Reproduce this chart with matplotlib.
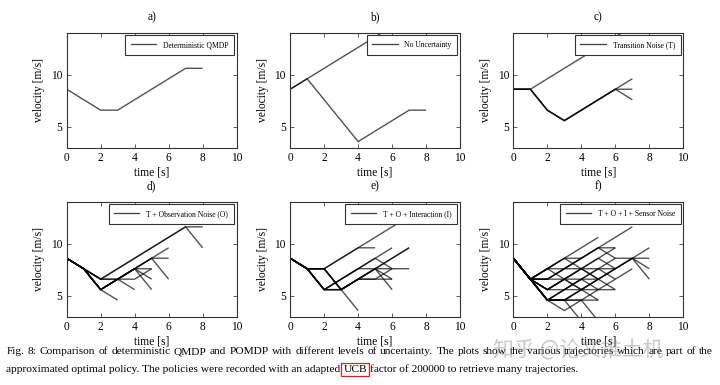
# QMDP vs POMDP trajectory comparison, 6 panels + caption.
import matplotlib.pyplot as plt
from matplotlib.lines import Line2D
from matplotlib.patches import Rectangle

plt.rcParams['font.family'] = ['Liberation Serif', 'DejaVu Serif']

TITLES = ['a)', 'b)', 'c)', 'd)', 'e)', 'f)']
LABELS = ['Deterministic QMDP',
          'No Uncertainty',
          'Transition Noise (T)',
          'T + Observation Noise (O)',
          'T + O + Interaction (I)',
          'T + O + I + Sensor Noise']

# trajectories: time [s] and velocity [m/s] per panel
A_TIMES = [[0, 2, 3, 7, 8]]
A_VELS = [[8.6, 6.6, 6.6, 10.6, 10.6]]

B_TIMES = [[0, 1, 4, 7, 8], [0, 1, 6]]
B_VELS = [[8.6, 9.6, 3.6, 6.6, 6.6], [8.6, 9.6, 14.6]]

C_TIMES = [[0, 1, 7], [0, 1, 2, 3, 7], [0, 1, 2, 3, 6, 7], [0, 1, 2, 3, 6, 7]]
C_VELS = [[8.6, 8.6, 14.6], [8.6, 8.6, 6.6, 5.6, 9.6],
          [8.6, 8.6, 6.6, 5.6, 8.6, 8.6], [8.6, 8.6, 6.6, 5.6, 8.6, 7.6]]

D_TIMES = [[0, 1, 2, 7, 8], [0, 1, 2, 7, 8], [0, 1, 2, 4, 5], [0, 1, 2, 3, 4],
           [0, 1, 2, 5, 6], [0, 1, 2, 5, 6], [0, 1, 2, 6], [0, 1, 2, 4, 5],
           [0, 1, 2, 4, 5], [0, 1, 2, 4, 5], [0, 1, 2, 3]]
D_VELS = [[8.6, 7.6, 6.6, 11.6, 11.6], [8.6, 7.6, 6.6, 11.6, 9.6],
          [8.6, 7.6, 6.6, 6.6, 7.6], [8.6, 7.6, 6.6, 6.6, 5.6],
          [8.6, 7.6, 5.6, 8.6, 8.6], [8.6, 7.6, 5.6, 8.6, 6.6],
          [8.6, 7.6, 5.6, 9.6], [8.6, 7.6, 5.6, 7.6, 7.6],
          [8.6, 7.6, 5.6, 7.6, 5.6], [8.6, 7.6, 5.6, 7.6, 6.6],
          [8.6, 7.6, 5.6, 4.6]]

E_TIMES = [[0, 1, 2, 8], [0, 1, 2, 4, 5], [0, 1, 2, 4], [0, 1, 2, 3, 7],
           [0, 1, 2, 3, 7], [0, 1, 2, 6], [0, 1, 2, 4, 7], [0, 1, 2, 5, 6],
           [0, 1, 2, 3, 4, 6], [0, 1, 2, 3, 5, 6], [0, 1, 2, 3, 5, 6],
           [0, 1, 2, 3, 4, 5, 6]]
E_VELS = [[8.6, 7.6, 7.6, 13.6], [8.6, 7.6, 7.6, 9.6, 9.6], [8.6, 7.6, 7.6, 3.6],
          [8.6, 7.6, 7.6, 5.6, 9.6], [8.6, 7.6, 5.6, 5.6, 9.6],
          [8.6, 7.6, 5.6, 9.6], [8.6, 7.6, 5.6, 7.6, 7.6],
          [8.6, 7.6, 5.6, 8.6, 7.6], [8.6, 7.6, 7.6, 5.6, 6.6, 6.6],
          [8.6, 7.6, 5.6, 5.6, 7.6, 5.6], [8.6, 7.6, 7.6, 5.6, 7.6, 6.6],
          [8.6, 7.6, 5.6, 5.6, 6.6, 6.6, 7.6]]

F_TIMES = [[0, 1, 5], [0, 1, 3, 4], [0, 1, 3, 5], [0, 1, 2, 7],
           [0, 1, 2, 5, 6], [0, 1, 2, 5, 6], [0, 1, 5], [0, 1, 2, 6],
           [0, 1, 2, 4], [0, 1, 2, 6], [0, 1, 2, 6], [0, 1, 2, 6, 8],
           [0, 1, 2, 5], [0, 1, 2, 3, 8], [0, 1, 2, 3, 7, 8], [0, 1, 2, 3, 7, 8],
           [0, 1, 2, 3, 7], [0, 1, 2, 3, 4], [0, 1, 2, 4, 5], [0, 1, 2, 3, 5],
           [0, 1, 2, 4, 6], [0, 1, 2, 5, 6], [0, 1, 2, 4, 5], [0, 1, 2, 5, 6]]
F_VELS = [[8.6, 6.6, 10.6], [8.6, 6.6, 8.6, 8.6], [8.6, 6.6, 8.6, 6.6],
          [8.6, 6.6, 6.6, 11.6], [8.6, 6.6, 6.6, 9.6, 9.6],
          [8.6, 6.6, 6.6, 9.6, 8.6], [8.6, 6.6, 6.6], [8.6, 6.6, 7.6, 7.6],
          [8.6, 6.6, 7.6, 5.6], [8.6, 6.6, 5.6, 9.6], [8.6, 6.6, 5.6, 5.6],
          [8.6, 6.6, 4.6, 8.6, 8.6], [8.6, 6.6, 4.6, 4.6],
          [8.6, 6.6, 4.6, 4.6, 9.6], [8.6, 6.6, 4.6, 4.6, 8.6, 7.6],
          [8.6, 6.6, 4.6, 4.6, 8.6, 6.6], [8.6, 6.6, 4.6, 3.6, 7.6],
          [8.6, 6.6, 4.6, 4.6, 2.6], [8.6, 6.6, 4.6, 4.6, 2.6],
          [8.6, 6.6, 5.6, 6.6, 4.6], [8.6, 6.6, 5.6, 7.6, 5.6],
          [8.6, 6.6, 5.6, 8.6, 7.6], [8.6, 6.6, 4.6, 6.6, 5.6],
          [8.6, 6.6, 4.6, 7.6, 6.6]]

X_TICKS = [0, 2, 4, 6, 8, 10]
Y_TICKS = [5, 10]

CAPTION_1 = ('Fig. 8: Comparison of deterministic QMDP and POMDP with different levels '
             'of uncertainty. The plots show the various trajectories which are part of the')
CAPTION_2A = 'approximated optimal policy. The policies were recorded with an adapted'
CAPTION_2B = 'UCB'
CAPTION_2C = 'factor of 200000 to retrieve many trajectories.'
WATERMARK = '知乎 @论文推土机'


def plot_panel(ax, times, vels, title, label):
    '''draw one panel: all trajectories, axes styling, legend.'''
    for t, v in zip(times, vels):
        ax.plot(t, v, c='k', lw=1.0, alpha=0.68, solid_capstyle='butt')

    ax.set_xlim(0, 10)
    ax.set_ylim(3, 14)
    ax.set_xticks(X_TICKS)
    ax.set_yticks(Y_TICKS)
    ax.tick_params(direction='in', top=True, right=True, length=3, width=0.6,
                   labelsize=8.3, pad=3, color='#444444')
    for sp in ax.spines.values():
        sp.set_linewidth(0.8)
        sp.set_color('#333333')

    ax.set_xlabel('time [s]', fontsize=8.3, labelpad=2)
    ax.set_ylabel('velocity [m/s]', fontsize=8.3, labelpad=4)
    ax.set_title(title, fontsize=8.3, pad=9)

    handle = Line2D([], [], c='k', lw=0.9, alpha=0.75)
    leg = ax.legend([handle], [label], loc='upper right', fontsize=5.5,
                    fancybox=False, framealpha=1, edgecolor='#333333',
                    borderaxespad=0.35, handlelength=3.3, borderpad=0.75,
                    handletextpad=0.9)
    leg.get_frame().set_linewidth(0.8)


def place_justified(fig, renderer, words, x0, x1, y, fs):
    '''spread the words of one caption line across x0..x1 (figure fraction).'''
    fw = fig.bbox.width
    texts = [fig.text(x0, y, wd, fontsize=fs, va='center', ha='left') for wd in words]
    widths = [t.get_window_extent(renderer).width / fw for t in texts]
    gap = (x1 - x0 - sum(widths)) / (len(words) - 1)
    x = x0
    for t, wdt in zip(texts, widths):
        t.set_x(x)
        x += wdt + gap


def main():
    fig = plt.figure(figsize=(7.2, 3.85), dpi=100)

    lefts = [0.0926, 0.403, 0.713]
    bottoms = [0.616, 0.177]
    w, h = 0.236, 0.299

    all_times = [A_TIMES, B_TIMES, C_TIMES, D_TIMES, E_TIMES, F_TIMES]
    all_vels = [A_VELS, B_VELS, C_VELS, D_VELS, E_VELS, F_VELS]

    for i in range(6):
        ax = fig.add_axes([lefts[i % 3], bottoms[i // 3], w, h])
        plot_panel(ax, all_times[i], all_vels[i], TITLES[i], LABELS[i])

    # caption
    fs = 8.2
    y1 = 1 - 352 / 385
    y2 = 1 - 369 / 385
    x0 = 0.009
    fig.canvas.draw()
    renderer = fig.canvas.get_renderer()
    place_justified(fig, renderer, CAPTION_1.split(' '), x0, 713 / 720, y1, fs)

    t2a = fig.text(x0, y2, CAPTION_2A, fontsize=fs, va='center', ha='left')
    gap = 0.25 * fs * fig.dpi / 72 / fig.bbox.width
    xa = t2a.get_window_extent(renderer).x1 / fig.bbox.width + gap
    t2b = fig.text(xa, y2, CAPTION_2B, fontsize=fs, va='center', ha='left')
    bb = t2b.get_window_extent(renderer)
    xb = bb.x1 / fig.bbox.width + gap
    fig.text(xb, y2, CAPTION_2C, fontsize=fs, va='center', ha='left')

    # red box round UCB
    px = 2.0
    fig.patches.append(Rectangle(((bb.x0 - px) / fig.bbox.width, (bb.y0 - px) / fig.bbox.height),
                                 (bb.width + 2 * px) / fig.bbox.width,
                                 (bb.height + 2 * px) / fig.bbox.height,
                                 transform=fig.transFigure, fill=False,
                                 ec='#d62728', lw=0.9))

    # site watermark
    fig.text(0.685, 1 - 350 / 385, WATERMARK, fontsize=15, color='#888888', alpha=0.45,
             va='center', ha='left', family=['Noto Sans CJK SC', 'DejaVu Sans'])

    fig.savefig('out.png', dpi=100)


if __name__ == '__main__':
    main()
